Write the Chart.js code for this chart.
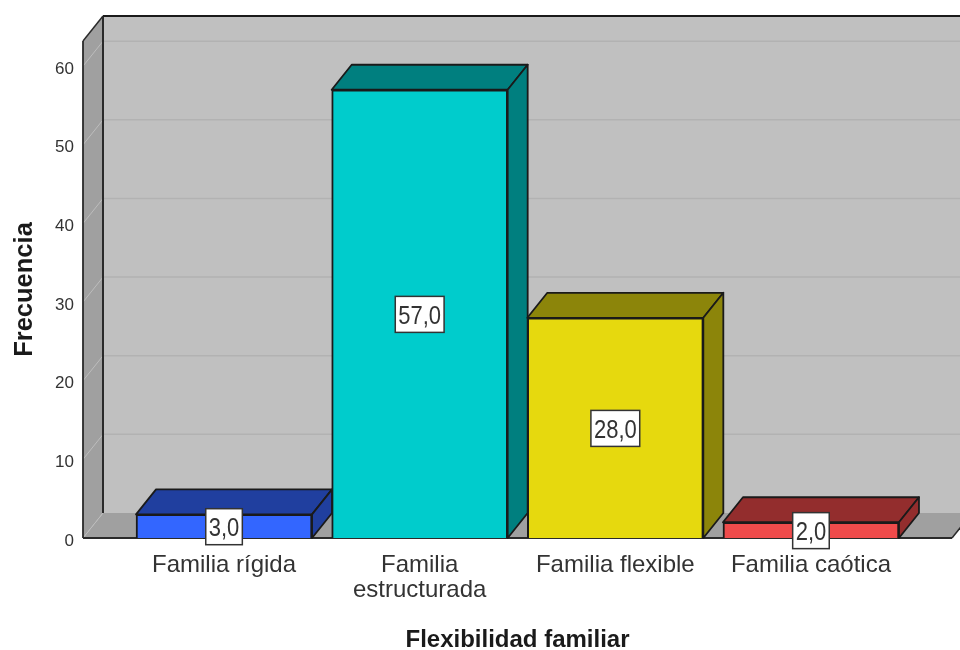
<!DOCTYPE html>
<html><head><meta charset="utf-8">
<style>html,body{margin:0;padding:0;background:#fff;overflow:hidden}canvas{display:block}</style>
<script src="https://cdn.jsdelivr.net/npm/chart.js@4"></script></head>
<body><canvas id="c" width="960" height="650"></canvas>
<script>
const categories = [["Familia rígida"], ["Familia","estructurada"], ["Familia flexible"], ["Familia caótica"]];
const values = [3, 57, 28, 2];
const valueLabels = ["3,0", "57,0", "28,0", "2,0"];
const frontColors = ["#3366ff", "#00cccc", "#e6d90e", "#ef4b4b"];
const topColors = ["#203f9f", "#007f7f", "#8c850a", "#932d2d"];
const yTitle = "Frecuencia";
const xTitle = "Flexibilidad familiar";
const DX = 20, DY = -25;
const EDGE = "#1a1a1a";

function poly(ctx, pts, fill, stroke, lw) {
  ctx.beginPath();
  pts.forEach((p, i) => i ? ctx.lineTo(p[0], p[1]) : ctx.moveTo(p[0], p[1]));
  ctx.closePath();
  if (fill) { ctx.fillStyle = fill; ctx.fill(); }
  if (stroke) { ctx.strokeStyle = stroke; ctx.lineWidth = lw || 1.5; ctx.lineJoin = "round"; ctx.stroke(); }
}
function line(ctx, x1, y1, x2, y2, c, lw) {
  ctx.beginPath(); ctx.moveTo(x1, y1); ctx.lineTo(x2, y2);
  ctx.strokeStyle = c; ctx.lineWidth = lw; ctx.stroke();
}
const box3d = {
  id: "box3d",
  beforeDatasetsDraw(chart) {
    const { ctx, chartArea: a, scales: { y } } = chart;
    ctx.save();
    const L = a.left, R = a.right, T = a.top, B = a.bottom;
    poly(ctx, [[L+DX,T+DY],[R+DX,T+DY],[R+DX,B+DY],[L+DX,B+DY]], "#c0c0c0");
    poly(ctx, [[L,T],[L+DX,T+DY],[L+DX,B+DY],[L,B]], "#a0a0a0");
    poly(ctx, [[L,B],[L+DX,B+DY],[R+DX,B+DY],[R,B]], "#a0a0a0");
    y.ticks.forEach(t => {
      const py = y.getPixelForValue(t.value);
      line(ctx, L, py, L+DX, py+DY, "#bdbdbd", 1);
      if (t.value > 0) line(ctx, L+DX, py+DY, R+DX, py+DY, "#b2b2b2", 1.5);
    });
    line(ctx, L+DX, T+DY, L+DX, B+DY, "#2a2a2a", 2);
    line(ctx, L+DX, T+DY, R+DX, T+DY, EDGE, 1.8);
    line(ctx, L, T, L+DX, T+DY, "#2a2a2a", 1.5);
    line(ctx, L, T, L, B, "#2a2a2a", 1.8);
    line(ctx, L, B, R, B, "#2a2a2a", 1.8);
    line(ctx, R, B, R+DX, B+DY, "#2a2a2a", 1.5);
    chart.getDatasetMeta(0).data.forEach((bar, i) => {
      const x0 = bar.x - bar.width/2, x1 = bar.x + bar.width/2, t = bar.y, b = bar.base;
      poly(ctx, [[x0,t],[x0+DX,t+DY],[x1+DX,t+DY],[x1,t]], topColors[i], EDGE, 1.8);
      poly(ctx, [[x1,t],[x1+DX,t+DY],[x1+DX,b+DY],[x1,b]], topColors[i], EDGE, 1.8);
    });
    ctx.restore();
  },
  afterDatasetsDraw(chart) {
    const { ctx } = chart;
    ctx.save();
    ctx.font = "22px 'Liberation Sans'";
    ctx.textAlign = "center"; ctx.textBaseline = "middle";
    chart.getDatasetMeta(0).data.forEach((bar, i) => {
      const cx = bar.x, cy = (bar.y + bar.base) / 2 + 0.5;
      const w = ctx.measureText(valueLabels[i]).width + 6, h = 36;
      ctx.fillStyle = "#fff"; ctx.strokeStyle = "#333"; ctx.lineWidth = 1.5;
      ctx.fillRect(cx - w/2, cy - h/2, w, h);
      ctx.strokeRect(cx - w/2, cy - h/2, w, h);
      ctx.fillStyle = "#333";
      ctx.save();
      ctx.translate(cx, cy + 2.5);
      ctx.scale(1, 1.15);
      ctx.fillText(valueLabels[i], 0, 0);
      ctx.restore();
    });
    ctx.restore();
  }
};
new Chart(document.getElementById("c"), {
  type: "bar",
  data: { datasets: [{
    data: values.map((v, i) => ({ x: i, y: v })),
    backgroundColor: frontColors,
    borderColor: EDGE,
    borderWidth: 2,
    barThickness: 176
  }]},
  options: {
    responsive: false, animation: false,
    layout: { padding: { top: 41, right: 8, left: 0, bottom: 0 } },
    plugins: { legend: { display: false }, tooltip: { enabled: false } },
    scales: {
      x: {
        type: "linear", min: -0.7209, max: 3.7209, offset: false,
        grid: { display: false }, border: { display: false },
        afterBuildTicks(s) { s.ticks = categories.map((c, i) => ({ value: i })); },
        afterFit(s) { s.height = 112; },
        ticks: { autoSkip: false, maxRotation: 0, minRotation: 0, padding: 7, color: "#333",
          font: { family: "'Liberation Sans'", size: 24, lineHeight: 1.05 },
          callback: v => categories[v] },
        title: { display: true, text: xTitle, color: "#1a1a1a", padding: { top: 0, bottom: -5 },
          font: { family: "'Liberation Sans'", size: 24, weight: "bold" } }
      },
      y: {
        min: 0, max: 63.2,
        grid: { display: false }, border: { display: false },
        afterFit(s) { s.width = 83; },
        ticks: { stepSize: 10, includeBounds: false, padding: 1, labelOffset: 3, color: "#333",
          font: { family: "'Liberation Sans'", size: 17 } },
        title: { display: true, text: yTitle, color: "#1a1a1a", padding: { top: 10, bottom: 0 },
          font: { family: "'Liberation Sans'", size: 25.5, weight: "bold" } }
      }
    }
  },
  plugins: [box3d]
});
</script></body></html>
